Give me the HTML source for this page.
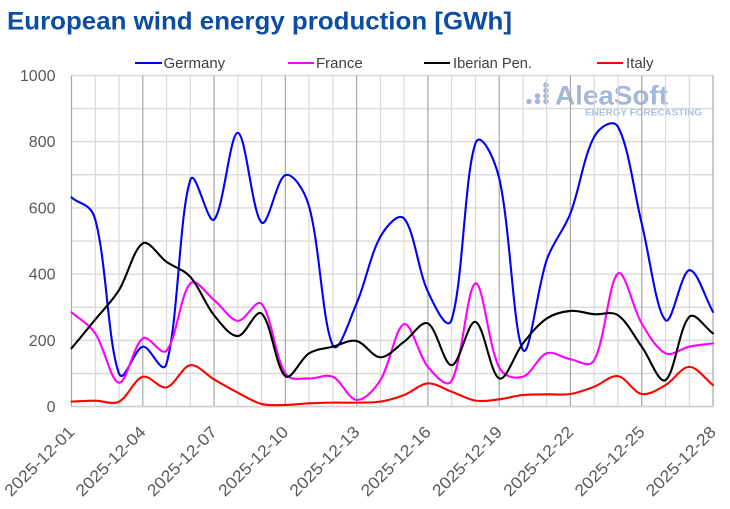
<!DOCTYPE html>
<html>
<head>
<meta charset="utf-8">
<style>
  html,body{margin:0;padding:0;background:#fff;}
  svg{display:block;}
  text{font-family:"Liberation Sans",sans-serif;}
</style>
</head>
<body>
<svg id="c" width="730" height="509" viewBox="0 0 730 509" xmlns="http://www.w3.org/2000/svg">
  <rect x="0" y="0" width="730" height="509" fill="#ffffff"/>
  <!-- Title -->
  <text x="7" y="29.5" font-size="25" font-weight="bold" fill="#0c4da2" textLength="505" lengthAdjust="spacingAndGlyphs">European wind energy production [GWh]</text>

  <!-- Watermark logo -->
  <g fill="#a3b7da">
    <circle cx="529" cy="101.5" r="2.8"/>
    <circle cx="537.5" cy="96" r="2.8"/>
    <circle cx="537.5" cy="101.5" r="2.8"/>
    <circle cx="546" cy="85" r="2.8"/>
    <circle cx="546" cy="90.5" r="2.8"/>
    <circle cx="546" cy="96" r="2.8"/>
    <circle cx="546" cy="101.5" r="2.8"/>
    <text x="555" y="104.5" font-size="27" font-weight="bold" textLength="113" lengthAdjust="spacingAndGlyphs">AleaSoft</text>
    <text x="585" y="115.5" font-size="9.5" font-weight="bold" fill="#aabfe2" textLength="117" lengthAdjust="spacingAndGlyphs">ENERGY FORECASTING</text>
  </g>

  <g id="grid"></g>
  <g id="series"></g>
  <g id="labels" font-size="16" fill="#595959"></g>

  <!-- Legend -->
  <g font-size="15" fill="#404040">
    <line x1="135" y1="63" x2="162" y2="63" stroke="#0000ff" stroke-width="2"/>
    <text x="163.5" y="68">Germany</text>
    <line x1="288" y1="63" x2="314" y2="63" stroke="#ff00ff" stroke-width="2"/>
    <text x="316" y="68">France</text>
    <line x1="424" y1="63" x2="450" y2="63" stroke="#000000" stroke-width="2"/>
    <text x="453" y="68" textLength="79" lengthAdjust="spacingAndGlyphs">Iberian Pen.</text>
    <line x1="597" y1="63" x2="623" y2="63" stroke="#ff0000" stroke-width="2"/>
    <text x="626" y="68">Italy</text>
  </g>
</svg>
<script>
(function(){
  var NS="http://www.w3.org/2000/svg";
  var X0=71.5, DX=23.76, Y0=406.6, SY=0.3311;
  function X(i){return X0+i*DX;}
  function Y(v){return Y0-v*SY;}
  var grid=document.getElementById('grid');
  function line(p,x1,y1,x2,y2,col,w){
    var l=document.createElementNS(NS,'line');
    l.setAttribute('x1',x1);l.setAttribute('y1',y1);l.setAttribute('x2',x2);l.setAttribute('y2',y2);
    l.setAttribute('stroke',col);l.setAttribute('stroke-width',w);p.appendChild(l);
  }
  for(var v=0;v<=1000;v+=100){
    line(grid,X0,Y(v),X(27),Y(v),'#d9d9d9',1.4);
  }
  for(var i=0;i<=27;i++){
    var dark=(i%3===0);
    line(grid,X(i),Y(1000),X(i),Y(0),dark?'#a6a6a6':'#d9d9d9',1.2);
  }
  line(grid,X0,Y(0),X(27),Y(0),'#d0d0d0',1.6);

  var labels=document.getElementById('labels');
  for(var v=0;v<=1000;v+=200){
    var t=document.createElementNS(NS,'text');
    t.setAttribute('x',55.5);t.setAttribute('y',Y(v)+5.5);
    t.setAttribute('text-anchor','end');
    t.textContent=String(v);labels.appendChild(t);
  }
  for(var i=0;i<=27;i+=3){
    var d=i+1; var s='2025-12-'+(d<10?'0'+d:d);
    var t=document.createElementNS(NS,'text');
    var ax=X(i)+4, ay=433;
    t.setAttribute('x',ax);t.setAttribute('y',ay);
    t.setAttribute('text-anchor','end');
    t.setAttribute('font-size','16.5');
    t.setAttribute('textLength','91');
    t.setAttribute('lengthAdjust','spacingAndGlyphs');
    t.setAttribute('transform','rotate(-45 '+ax+' '+ay+')');
    t.textContent=s;labels.appendChild(t);
  }

  var data={
    '#0000ff':[632,565,100,181,130,684,565,827,556,699,604,185,312,513,568,347,263,795,690,171,443,584,815,845,553,261,412,286],
    '#ff00ff':[285,221,72,206,169,372,322,259,310,100,85,90,20,80,249,120,78,372,118,90,161,143,140,402,251,161,181,191],
    '#000000':[176,263,352,493,437,392,276,213,281,92,161,181,198,149,196,251,125,256,85,191,266,289,279,276,181,80,271,221],
    '#ff0000':[15,18,15,90,58,125,82,42,8,5,10,12,12,15,35,70,45,18,22,35,37,38,60,92,38,65,120,65]
  };
  var order=['#0000ff','#ff00ff','#000000','#ff0000'];
  var ser=document.getElementById('series');
  function dist(a,b){var dx=a[0]-b[0],dy=a[1]-b[1];return Math.sqrt(dx*dx+dy*dy);}
  var W=0.35; // weight of uniform Catmull-Rom vs chord-weighted
  order.forEach(function(col){
    var vals=data[col];
    var pts=vals.map(function(v,i){return [X(i),Y(v)];});
    var n=pts.length;
    var cin=[],cout=[];
    for(var i=0;i<n;i++){
      var pp=pts[i>0?i-1:i], pc=pts[i], pn=pts[i<n-1?i+1:i];
      var tx=pn[0]-pp[0], ty=pn[1]-pp[1];
      var d0=dist(pp,pc), d1=dist(pc,pn), s=d0+d1;
      if(s===0){cin.push(pc);cout.push(pc);continue;}
      var a0,a1;
      if(i===0||i===n-1){a0=a1=1/3;}
      else{
        a0=W*(1/6)+(1-W)*(d0/s/3);
        a1=W*(1/6)+(1-W)*(d1/s/3);
      }
      cin.push([pc[0]-tx*a0, pc[1]-ty*a0]);
      cout.push([pc[0]+tx*a1, pc[1]+ty*a1]);
    }
    var d='M'+pts[0][0].toFixed(2)+' '+pts[0][1].toFixed(2);
    for(var i=0;i<n-1;i++){
      d+=' C'+cout[i][0].toFixed(2)+' '+cout[i][1].toFixed(2)+' '+cin[i+1][0].toFixed(2)+' '+cin[i+1][1].toFixed(2)+' '+pts[i+1][0].toFixed(2)+' '+pts[i+1][1].toFixed(2);
    }
    var p=document.createElementNS(NS,'path');
    p.setAttribute('d',d);p.setAttribute('fill','none');
    p.setAttribute('stroke',col);p.setAttribute('stroke-width','2.1');
    p.setAttribute('stroke-linejoin','round');p.setAttribute('stroke-linecap','round');
    ser.appendChild(p);
  });
})();
</script>
</body>
</html>
